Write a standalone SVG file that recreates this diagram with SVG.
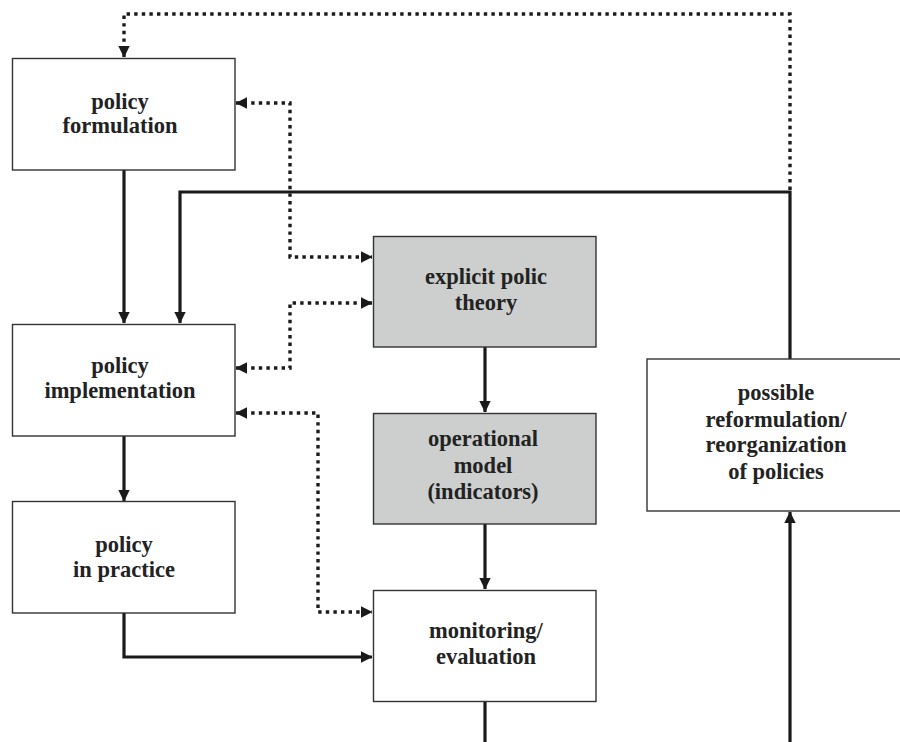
<svg xmlns="http://www.w3.org/2000/svg" width="900" height="742" viewBox="0 0 900 742">
<style>
.box{fill:#ffffff;stroke:#333333;stroke-width:1.4}
.grey{fill:#cdcfce}
.t{font-family:"Liberation Serif","Times New Roman",serif;font-weight:bold;font-size:22.5px;fill:#222222;text-anchor:middle}
.solid{fill:none;stroke:#1a1a1a;stroke-width:3.2}
.dot{fill:none;stroke:#1a1a1a;stroke-width:3.4;stroke-dasharray:3.4 4.2}
</style>
<defs>
<marker id="ah" markerUnits="userSpaceOnUse" markerWidth="12" markerHeight="12" refX="11" refY="6" orient="auto-start-reverse" viewBox="0 0 12 12">
<path d="M0,0.3 L11.5,6 L0,11.7 z" fill="#1a1a1a"/>
</marker>
</defs>
<rect width="900" height="742" fill="#ffffff"/>
<g id="connectors">
<path class="solid" d="M124,170 V323" marker-end="url(#ah)"/>
<path class="solid" d="M124,436 V501" marker-end="url(#ah)"/>
<path class="solid" d="M124,613 V657 H372" marker-end="url(#ah)"/>
<path class="solid" d="M790,359 V192 H180 V323" marker-end="url(#ah)"/>
<path class="solid" d="M485,347 V412" marker-end="url(#ah)"/>
<path class="solid" d="M485,524 V589" marker-end="url(#ah)"/>
<path class="solid" d="M485,702 V742"/>
<path class="solid" d="M790,742 V512" marker-end="url(#ah)"/>
<path class="dot" d="M790,190 V14 H124 V57" marker-end="url(#ah)"/>
<path class="dot" d="M236,103 H290 V257 H372" marker-start="url(#ah)" marker-end="url(#ah)"/>
<path class="dot" d="M236,368 H290 V303 H372" marker-start="url(#ah)" marker-end="url(#ah)"/>
<path class="dot" d="M236,413 H318 V612 H372" marker-start="url(#ah)" marker-end="url(#ah)"/>
</g>
<g id="policy-formulation">
<rect class="box" x="12.5" y="58.5" width="222.5" height="111.5"/>
<text class="t" x="120" y="109">policy</text>
<text class="t" x="120" y="133">formulation</text>
</g>
<g id="policy-implementation">
<rect class="box" x="12.5" y="324.5" width="222.5" height="111.5"/>
<text class="t" x="120" y="373">policy</text>
<text class="t" x="120" y="398">implementation</text>
</g>
<g id="policy-in-practice">
<rect class="box" x="12.5" y="501.5" width="222.5" height="111.5"/>
<text class="t" x="124" y="552">policy</text>
<text class="t" x="124" y="577">in practice</text>
</g>
<g id="explicit-policy-theory">
<rect class="box grey" x="373.5" y="236.5" width="222.5" height="110.5"/>
<text class="t" x="486" y="284">explicit polic</text>
<text class="t" x="486" y="310">theory</text>
</g>
<g id="operational-model">
<rect class="box grey" x="373.5" y="413.5" width="222.5" height="110.5"/>
<text class="t" x="483" y="446">operational</text>
<text class="t" x="483" y="472.5">model</text>
<text class="t" x="483" y="498.5">(indicators)</text>
</g>
<g id="monitoring-evaluation">
<rect class="box" x="373.5" y="590.5" width="222.5" height="111"/>
<text class="t" x="486" y="638">monitoring/</text>
<text class="t" x="486" y="664">evaluation</text>
</g>
<g id="possible-reformulation">
<rect class="box" x="647" y="359" width="260" height="152"/>
<text class="t" x="776" y="400">possible</text>
<text class="t" x="776" y="426.5">reformulation/</text>
<text class="t" x="776" y="452">reorganization</text>
<text class="t" x="776" y="478.5">of policies</text>
</g>
</svg>
